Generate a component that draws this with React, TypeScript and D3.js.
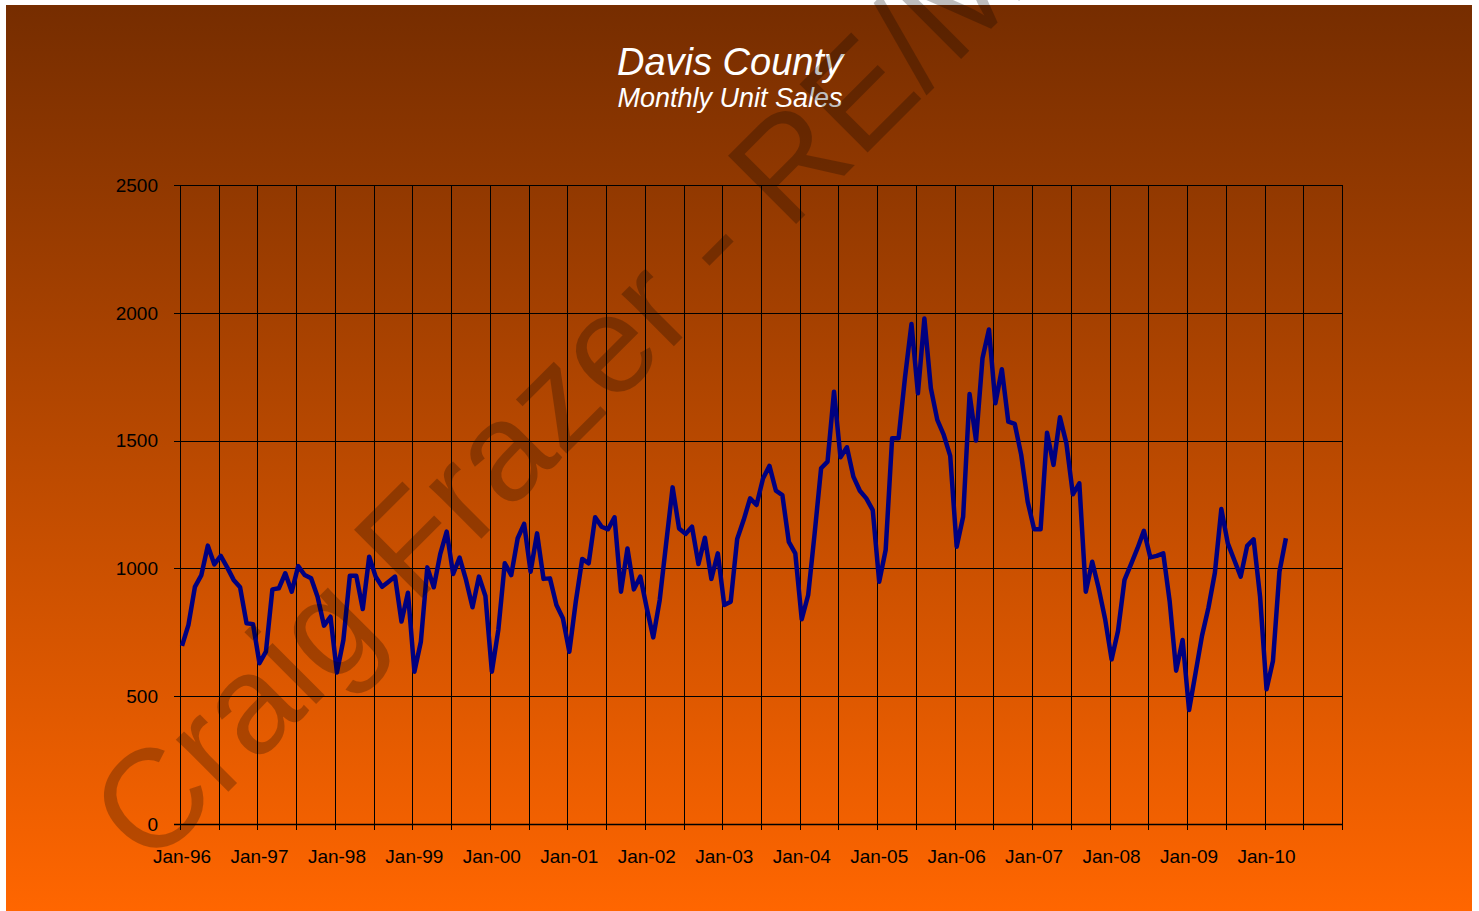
import React from "react"
import * as d3 from "d3"

// monthly unit sales, Jan through Dec of each year
const sales1996 = [697, 779, 928, 974, 1089, 1016, 1049, 1004, 955, 926, 785, 782]
const sales1997 = [629, 674, 918, 922, 981, 909, 1009, 974, 961, 889, 776, 811]
const sales1998 = [593, 720, 971, 971, 841, 1046, 968, 928, 948, 968, 792, 905]
const sales1999 = [596, 713, 1004, 926, 1056, 1144, 978, 1042, 955, 848, 968, 892]
const sales2000 = [596, 759, 1020, 974, 1118, 1174, 987, 1137, 959, 961, 857, 805]
const sales2001 = [674, 870, 1037, 1020, 1200, 1163, 1153, 1200, 909, 1078, 918, 968]
const sales2002 = [844, 730, 876, 1098, 1317, 1156, 1135, 1163, 1017, 1120, 959, 1059]
const sales2003 = [857, 870, 1115, 1189, 1274, 1248, 1352, 1401, 1304, 1287, 1104, 1059]
const sales2004 = [801, 896, 1137, 1392, 1418, 1691, 1435, 1474, 1359, 1304, 1274, 1228]
const sales2005 = [948, 1072, 1509, 1509, 1748, 1956, 1685, 1978, 1705, 1581, 1522, 1440]
const sales2006 = [1085, 1202, 1682, 1500, 1822, 1935, 1646, 1779, 1574, 1565, 1444, 1261]
const sales2007 = [1153, 1153, 1531, 1405, 1591, 1489, 1290, 1333, 909, 1026, 922, 801]
const sales2008 = [644, 756, 955, 1016, 1078, 1147, 1043, 1049, 1059, 870, 600, 720]
const sales2009 = [446, 590, 736, 846, 983, 1232, 1098, 1033, 968, 1088, 1114, 889]
const sales2010 = [527, 639, 987, 1118]

const xLabels = [
  "Jan-96", "Jan-97", "Jan-98", "Jan-99", "Jan-00", "Jan-01", "Jan-02", "Jan-03",
  "Jan-04", "Jan-05", "Jan-06", "Jan-07", "Jan-08", "Jan-09", "Jan-10",
]
const yTicks = [0, 500, 1000, 1500, 2000, 2500]

const sales = [
  ...sales1996, ...sales1997, ...sales1998, ...sales1999, ...sales2000,
  ...sales2001, ...sales2002, ...sales2003, ...sales2004, ...sales2005,
  ...sales2006, ...sales2007, ...sales2008, ...sales2009, ...sales2010,
]

const W = 1479
const H = 911
const plot = { left: 180, right: 1342, top: 185, bottom: 824 }
const months = 180 // Jan-96 .. Jan-11

const App = () => {
  const x = d3.scaleLinear().domain([0, months]).range([plot.left, plot.right])
  const y = d3.scaleLinear().domain([0, 2500]).range([plot.bottom, plot.top])

  const line = d3
    .line<number>()
    .x((d, i) => x(i))
    .y((d) => y(d))

  const gridMonths = d3.range(0, months + 1, 6)
  const font = "'Liberation Sans', Arial, sans-serif"

  return (
    <svg
      width={W}
      height={H}
      style={{ position: "absolute", left: 0, top: 0, display: "block" }}
    >
      <defs>
        <linearGradient id="bg" x1="0" y1="0" x2="0" y2="1">
          <stop offset="0%" stopColor="#762d00" />
          <stop offset="100%" stopColor="#ff6600" />
        </linearGradient>
      </defs>
      <rect x={0} y={0} width={W} height={H} fill="#ffffff" />
      <rect x={6} y={5} width={1466} height={H - 5} fill="url(#bg)" />

      <text
        x={730}
        y={75}
        textAnchor="middle"
        fill="#ffffff"
        fontFamily={font}
        fontStyle="italic"
        fontSize={38}
      >
        Davis County
      </text>
      <text
        x={730}
        y={107}
        textAnchor="middle"
        fill="#ffffff"
        fontFamily={font}
        fontStyle="italic"
        fontSize={27}
      >
        Monthly Unit Sales
      </text>

      {/* grid */}
      {yTicks.map((t) => (
        <line
          key={"h" + t}
          x1={plot.left - 6}
          x2={plot.right}
          y1={Math.round(y(t)) + 0.5}
          y2={Math.round(y(t)) + 0.5}
          stroke="#000"
          strokeWidth={t === 0 ? 1.5 : 1}
        />
      ))}
      {gridMonths.map((m) => (
        <line
          key={"v" + m}
          x1={Math.round(x(m)) + 0.5}
          x2={Math.round(x(m)) + 0.5}
          y1={plot.top}
          y2={plot.bottom + 6}
          stroke="#000"
          strokeWidth={1}
        />
      ))}

      {yTicks.map((t) => (
        <text
          key={"yl" + t}
          x={158}
          y={y(t)}
          dy="0.36em"
          textAnchor="end"
          fontFamily={font}
          fontSize={19}
          fill="#000"
        >
          {t}
        </text>
      ))}
      {xLabels.map((l, i) => (
        <text
          key={l}
          x={x(i * 12) + 2}
          y={863}
          textAnchor="middle"
          fontFamily={font}
          fontSize={19}
          fill="#000"
        >
          {l}
        </text>
      ))}

      <path
        d={line(sales) || ""}
        fill="none"
        stroke="#000080"
        strokeWidth={4.5}
        strokeLinejoin="round"
        transform="translate(2,0)"
      />

      {/* watermark, cut off by the top edge as in the original */}
      <text
        x={150}
        y={870}
        transform="rotate(-45 150 870)"
        fontFamily={font}
        fontSize={140}
        fill="rgba(0,0,0,0.25)"
      >
        Craig Frazer - RE/MAX
      </text>
    </svg>
  )
}

export default App
